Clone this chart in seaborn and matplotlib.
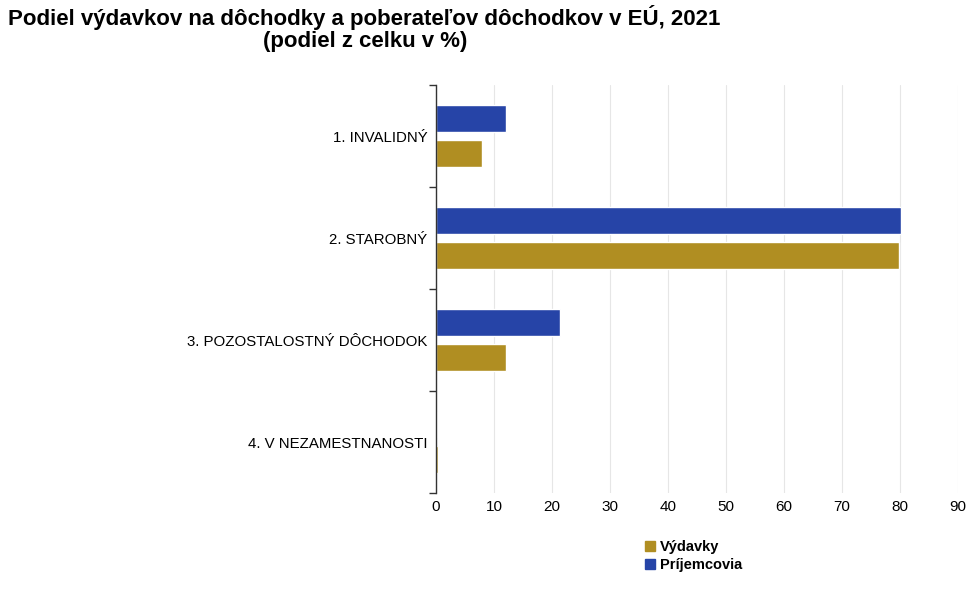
import matplotlib
matplotlib.use("Agg")
import matplotlib.pyplot as plt
from matplotlib.patches import Patch
import pandas as pd
import seaborn as sns

categories = ["1. INVALIDNÝ", "2. STAROBNÝ", "3. POZOSTALOSTNÝ DÔCHODOK", "4. V NEZAMESTNANOSTI"]
prijemcovia = [12.1, 80.1, 21.3, 0.2]
vydavky = [7.9, 79.8, 12.0, 0.3]
x_ticks = [0, 10, 20, 30, 40, 50, 60, 70, 80, 90]

blue = "#2644a7"
gold = "#b08e22"

sns.set_theme(style="white")
plt.rcParams["font.family"] = ["Liberation Sans", "DejaVu Sans"]
plt.rcParams["text.color"] = "black"
plt.rcParams["xtick.color"] = "black"
plt.rcParams["ytick.color"] = "black"

df = pd.DataFrame({
    "Kategória": categories * 2,
    "Hodnota": prijemcovia + vydavky,
    "Séria": ["Príjemcovia"] * 4 + ["Výdavky"] * 4,
})

fig = plt.figure(figsize=(9.76, 5.9), dpi=100)
ax = fig.add_axes([436 / 976, 1 - 493 / 590, (958 - 436) / 976, (493 - 85) / 590])

sns.barplot(data=df, x="Hodnota", y="Kategória", hue="Séria", orient="h",
            order=categories, hue_order=["Príjemcovia", "Výdavky"],
            palette={"Príjemcovia": blue, "Výdavky": gold},
            width=0.68, gap=0.23, ax=ax, legend=False, saturation=1)

ax.set_xlim(0, 90)
ax.set_ylim(3.5, -0.5)
ax.set_xticks(x_ticks)
ax.set_xlabel("")
ax.set_ylabel("")
ax.grid(axis="x", color="#e6e6e6", linewidth=0.8)
ax.set_axisbelow(True)
for s in ["top", "right", "bottom"]:
    ax.spines[s].set_visible(False)
ax.spines["left"].set_color("#333333")
ax.spines["left"].set_linewidth(1)

ax.tick_params(axis="x", length=0, labelsize=11, pad=5)
ax.tick_params(axis="y", which="major", length=0, labelsize=10.8, pad=6)
ax.set_yticks([-0.5, 0.5, 1.5, 2.5, 3.5], minor=True)
ax.tick_params(axis="y", which="minor", length=5, width=1, color="#333333", left=True)

fig.text(0.008, 1 - 17 / 590, "Podiel výdavkov na dôchodky a poberateľov dôchodkov v EÚ, 2021",
         fontsize=16, fontweight="bold", ha="left", va="center")
fig.text(365 / 976, 1 - 41 / 590, "(podiel z celku v %)",
         fontsize=16, fontweight="bold", ha="center", va="center")

handles = [Patch(color=gold, label="Výdavky"), Patch(color=blue, label="Príjemcovia")]
leg = fig.legend(handles=handles, loc="upper left", bbox_to_anchor=(632 / 976, 1 - 527 / 590),
                 frameon=False, handlelength=0.7, handleheight=0.7, handletextpad=0.3,
                 labelspacing=0.25, prop={"weight": "bold", "size": 10.5})

fig.savefig("out.png", dpi=100)
